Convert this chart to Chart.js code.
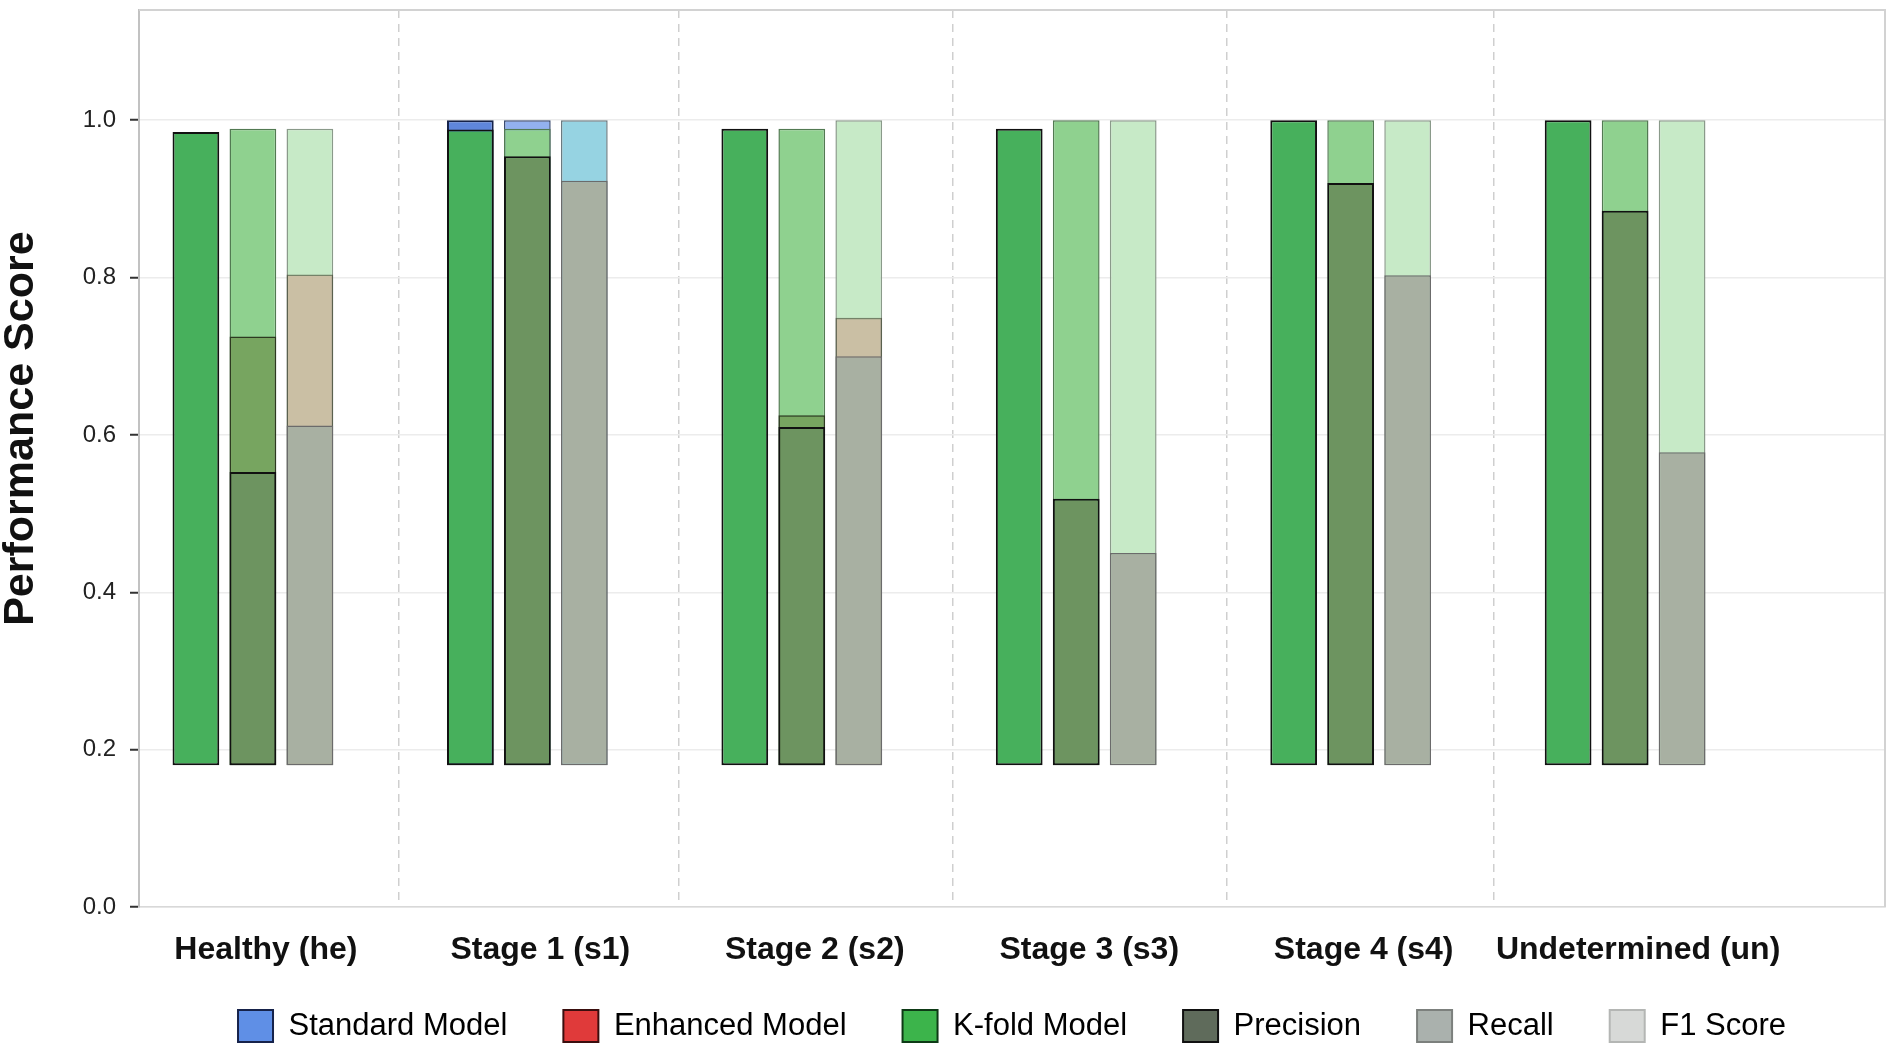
<!DOCTYPE html>
<html>
<head>
<meta charset="utf-8">
<title>Performance Score by Stage</title>
<script src="https://cdn.jsdelivr.net/npm/chart.js@4.4.1/dist/chart.umd.min.js"></script>
<style>
    html, body { margin: 0; padding: 0; background: #ffffff; }
    #wrap { width: 1893px; height: 1052px; position: relative; }
</style>
</head>
<body>
<div id="wrap"><canvas id="perfChart"></canvas></div>
<script>
// Categories and values
const categories = ['Healthy (he)', 'Stage 1 (s1)', 'Stage 2 (s2)', 'Stage 3 (s3)', 'Stage 4 (s4)', 'Undetermined (un)'];
const barBase = 0.18;

// left slot
const standardPrecision = [null, 1.0, null, null, null, null];
const kfoldPrecision = [0.985, 0.988, 0.989, 0.989, 1.0, 1.0];

// middle slot
const standardRecall = [null, 1.0, null, null, null, null];
const kfoldRecall = [0.989, 0.989, 0.989, 1.0, 1.0, 1.0];
const enhancedRecall = [0.725, null, 0.625, null, null, null];
const precisionLayer = [0.553, 0.954, 0.61, 0.519, 0.92, 0.885];

// right slot
const standardF1 = [null, 1.0, null, null, null, null];
const kfoldF1 = [0.989, null, 1.0, 1.0, 1.0, 1.0];
const enhancedF1 = [0.804, null, 0.749, null, null, null];
const recallLayer = [0.612, 0.923, 0.70, 0.45, 0.803, 0.578];

// dashed separators between groups (category units)
const separators = [0.53, 1.55, 2.55, 3.55, 4.52];
const yTicks = [0, 0.2, 0.4, 0.6, 0.8, 1.0];

const legendNames = ['Standard Model', 'Enhanced Model', 'K-fold Model', 'Precision', 'Recall', 'F1 Score'];
const legendFill = ['#5f8fe6', '#e03a3a', '#3cb44b', '#5f6b5b', '#aab1ad', '#d7d9d7'];
const legendStroke = ['#16224a', '#3a0e0e', '#0e3a16', '#111111', '#7c807d', '#b4b6b4'];

Chart.defaults.font.family = '"Liberation Sans", Arial, sans-serif';

function toBars(values) {
    // floating bars from barBase up to the value; missing values are left out
    return values
        .map((v, i) => v == null ? null : { x: i, y: [barBase, v] })
        .filter(p => p !== null);
}

// layers listed bottom -> top inside each slot
const slots = [
    { stack: 'precision', layers: [
        { label: 'Standard Model', values: standardPrecision, bg: '#5f86dc', border: '#16224a', width: 2 },
        { label: 'K-fold Model', values: kfoldPrecision, bg: '#47b05c', border: '#111111', width: 2 }
    ]},
    { stack: 'recall', layers: [
        { label: 'Standard Model', values: standardRecall, bg: '#93b1ee', border: '#3a4a70', width: 1.5 },
        { label: 'K-fold Model', values: kfoldRecall, bg: '#8fd18f', border: '#527a52', width: 1.5 },
        { label: 'Enhanced Model', values: enhancedRecall, bg: 'rgba(90,110,40,0.45)', border: '#2d3a20', width: 1.5 },
        { label: 'Precision', values: precisionLayer, bg: '#6d9460', border: '#111111', width: 2 }
    ]},
    { stack: 'f1', layers: [
        { label: 'Standard Model', values: standardF1, bg: '#96d3e2', border: '#6a7a80', width: 1.5 },
        { label: 'K-fold Model', values: kfoldF1, bg: '#c7eac7', border: '#8a9a8a', width: 1.5 },
        { label: 'Enhanced Model', values: enhancedF1, bg: 'rgba(214,39,40,0.22)', border: 'rgba(60,60,40,0.6)', width: 1.5 },
        { label: 'Recall', values: recallLayer, bg: '#a8b0a2', border: '#6b6b6b', width: 1.5 }
    ]}
];

const datasets = [];
slots.forEach((slot, s) => {
    const n = slot.layers.length;
    slot.layers.forEach((layer, k) => {
        datasets.push({
            label: layer.label,
            data: toBars(layer.values),
            stack: slot.stack,
            backgroundColor: layer.bg,
            borderColor: layer.border,
            borderWidth: layer.width,
            borderSkipped: false,
            // lower order is drawn on top; first stack gets lowest orders so it sits left
            order: s * 10 + (n - 1 - k)
        });
    });
});

// light frame on top and right of plot area
const framePlugin = {
    id: 'frame',
    afterDatasetsDraw(chart) {
        const { ctx, chartArea: a } = chart;
        ctx.save();
        ctx.strokeStyle = '#d2d2d2';
        ctx.lineWidth = 2;
        ctx.beginPath();
        ctx.moveTo(a.left, a.top);
        ctx.lineTo(a.right, a.top);
        ctx.lineTo(a.right, a.bottom);
        ctx.stroke();
        ctx.restore();
    }
};

// x labels hang a little past the axis box, so widen the box used for clipping
const labelRoomPlugin = {
    id: 'labelRoom',
    afterLayout(chart) {
        const xs = chart.scales.x;
        xs.bottom = xs.top + 80;
    }
};

const ctx = document.getElementById('perfChart');
new Chart(ctx, {
    type: 'bar',
    data: { datasets: datasets },
    plugins: [framePlugin, labelRoomPlugin],
    options: {
        responsive: true,
        maintainAspectRatio: false,
        animation: false,
        barPercentage: 0.82,
        categoryPercentage: 0.623,
        layout: { padding: { top: 10, right: 8, left: 0, bottom: 0 } },
        plugins: {
            tooltip: { enabled: false },
            legend: {
                position: 'bottom',
                fullSize: false,
                labels: {
                    color: '#111111',
                    font: { size: 31 },
                    boxWidth: 35,
                    boxHeight: 32,
                    padding: 56,
                    generateLabels: () => legendNames.map((name, i) => ({
                        text: name,
                        fillStyle: legendFill[i],
                        strokeStyle: legendStroke[i],
                        lineWidth: 2,
                        hidden: false,
                        datasetIndex: i
                    }))
                },
                onClick: () => {}
            }
        },
        scales: {
            x: {
                type: 'linear',
                stacked: true,
                offset: false,
                min: -0.415,
                max: 5.947,
                afterFit: (scale) => { scale.height = 47; },
                grid: { offset: false, drawOnChartArea: false, drawTicks: false },
                border: { display: true, color: '#d8d8d8', width: 1.5 },
                ticks: {
                    stepSize: 1,
                    includeBounds: false,
                    autoSkip: false,
                    maxRotation: 0,
                    labelOffset: 13,
                    padding: 24,
                    color: '#111111',
                    font: { size: 32, weight: 'bold' },
                    callback: (v) => Number.isInteger(v) ? categories[v] : ''
                }
            },
            xsep: {
                type: 'linear',
                position: 'bottom',
                offset: false,
                min: -0.415,
                max: 5.947,
                afterBuildTicks: (scale) => { scale.ticks = separators.map(v => ({ value: v })); },
                ticks: { display: false },
                grid: { offset: false, color: '#cfcfcf', lineWidth: 1.5, drawTicks: false },
                border: { display: false, dash: [8, 6] }
            },
            y: {
                stacked: false,
                min: 0,
                max: 1.14,
                afterFit: (scale) => {
                    scale.width = 139;
                    // no extra room above/below for tick labels, the top tick is not at the edge
                    scale.paddingTop = 0;
                    scale.paddingBottom = 0;
                },
                afterBuildTicks: (scale) => { scale.ticks = yTicks.map(v => ({ value: v })); },
                title: {
                    display: true,
                    // leading spaces nudge the title a little above the centre, as in the source
                    text: '\u00a0\u00a0\u00a0\u00a0\u00a0Performance Score',
                    color: '#111111',
                    font: { size: 43, weight: 'bold', lineHeight: 1.0 },
                    padding: { top: 0, bottom: 0 }
                },
                grid: { color: '#ececec', lineWidth: 1.5, tickColor: '#333333', tickLength: 9, tickWidth: 2 },
                border: { color: '#c2c2c2', width: 2 },
                ticks: {
                    color: '#222222',
                    font: { size: 24 },
                    padding: 14,
                    callback: (v) => Number(v).toFixed(1)
                }
            }
        }
    }
});
</script>
</body>
</html>
